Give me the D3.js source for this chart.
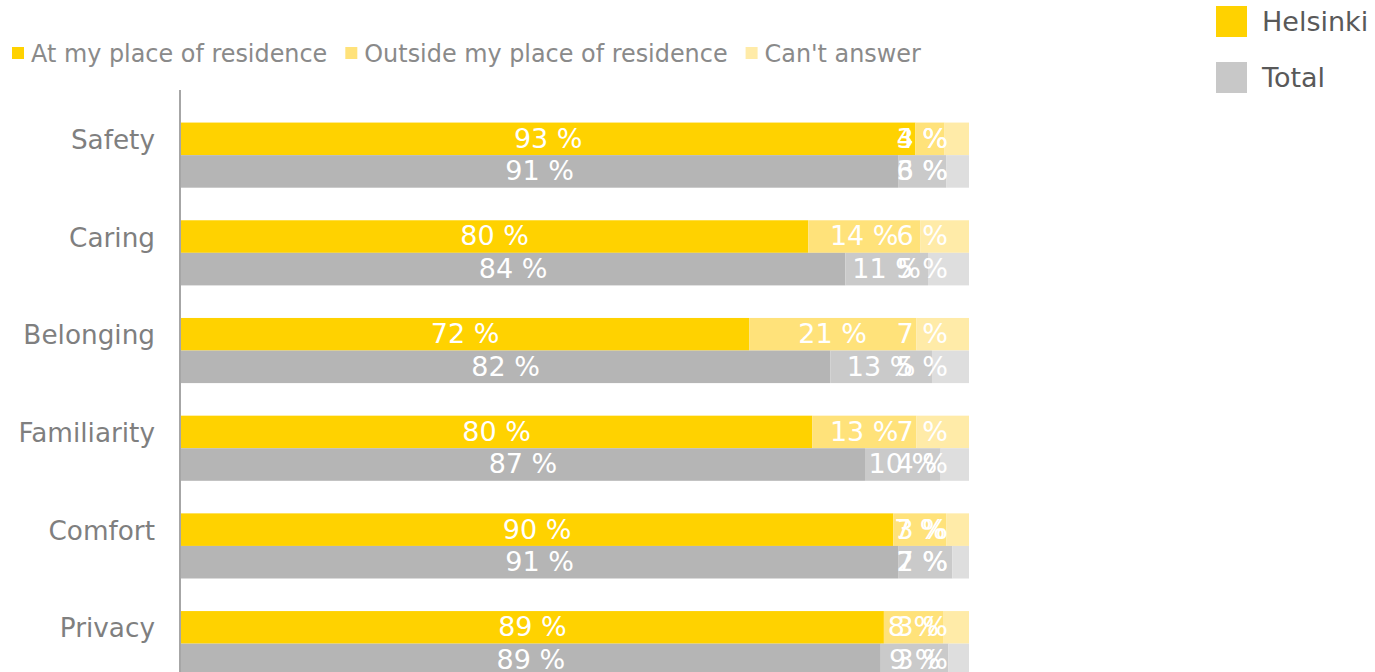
<!DOCTYPE html>
<html>
<head>
<meta charset="utf-8">
<script src="https://cdn.jsdelivr.net/npm/d3@7"></script>
<style>
  html, body { margin: 0; padding: 0; background: #fff; }
  svg { display: block; font-family: "DejaVu Sans", Verdana, sans-serif; }
</style>
</head>
<body>
<svg id="chart" width="1375" height="672"></svg>
<script>
// Where people feel at home – share of answers per aspect
const categories = ["Safety", "Caring", "Belonging", "Familiarity", "Comfort", "Privacy"];
const groups = ["Helsinki", "Total"];
const answers = ["At my place of residence", "Outside my place of residence", "Can't answer"];

// Helsinki, % of respondents
const helsinkiHome    = [93.2, 79.6, 72.1, 80.1, 90.4, 89.2];
const helsinkiOutside = [3.7, 14.2, 21.2, 13.2, 6.7, 7.5];
const helsinkiCant    = [3.1, 6.2, 6.7, 6.7, 2.9, 3.3];

// All respondents, % of respondents
const totalHome    = [91.0, 84.3, 82.4, 86.8, 91.0, 88.8];
const totalOutside = [6.1, 10.5, 12.9, 9.6, 6.9, 8.6];
const totalCant    = [2.9, 5.2, 4.7, 3.6, 2.1, 2.6];

const xTicks = [0, 100];

const palette = {
  Helsinki: ["#FFD200", "#FFE27A", "#FFEBA8"],
  Total:    ["#B5B5B5", "#CACACA", "#DEDEDE"]
};
const groupLegendColor = { Helsinki: "#FFD200", Total: "#C8C8C8" };

const seriesByGroup = {
  Helsinki: [helsinkiHome, helsinkiOutside, helsinkiCant],
  Total:    [totalHome, totalOutside, totalCant]
};

const svg = d3.select("#chart");
const plot = { left: 181, right: 969, top: 90, band: 97.7 };

const x = d3.scaleLinear().domain(xTicks).range([plot.left, plot.right]);
const y = d3.scaleBand()
  .domain(categories)
  .range([plot.top, plot.top + plot.band * categories.length])
  .padding(0);

// three slots per category; the first one stays empty
const slot = d3.scaleBand()
  .domain(["", ...groups])
  .range([0, y.bandwidth()])
  .padding(0);

// stacked rows
const rows = [];
categories.forEach((c, i) => {
  groups.forEach(g => {
    let acc = 0;
    seriesByGroup[g].forEach((arr, k) => {
      const v = arr[i];
      rows.push({ cat: c, group: g, k, x0: acc, x1: acc + v, value: v });
      acc += v;
    });
  });
});

const bars = svg.append("g");
bars.selectAll("rect").data(rows).join("rect")
  .attr("x", d => x(d.x0))
  .attr("width", d => x(d.x1) - x(d.x0))
  .attr("y", d => y(d.cat) + slot(d.group))
  .attr("height", slot.bandwidth())
  .attr("fill", d => palette[d.group][d.k]);

// value labels, centred in each segment and kept inside the plot on the right
const labelLimit = plot.right - 21;
const labels = svg.append("g")
  .attr("font-size", 27)
  .attr("fill", "#fff");
labels.selectAll("text").data(rows).join("text")
  .attr("y", d => y(d.cat) + slot(d.group) + slot.bandwidth() / 2)
  .attr("dy", "0.33em")
  .attr("text-anchor", "middle")
  .text(d => Math.round(d.value) + " %")
  .each(function(d) {
    const w = this.getComputedTextLength();
    let cx = (x(d.x0) + x(d.x1)) / 2;
    if (cx + w / 2 > labelLimit) cx = labelLimit - w / 2;
    d3.select(this).attr("x", cx);
  });

// category axis
const axis = svg.append("g").attr("transform", `translate(${plot.left - 1},0)`)
  .call(d3.axisLeft(y).tickSize(0).tickPadding(25));
axis.select(".domain").remove();
axis.append("line")
  .attr("x1", 0).attr("x2", 0)
  .attr("y1", plot.top).attr("y2", 672)
  .attr("stroke", "#a6a6a6").attr("stroke-width", 2);
axis.selectAll(".tick text")
  .attr("font-size", 26.3)
  .attr("dy", "0.38em")
  .attr("font-family", "DejaVu Sans, Verdana, sans-serif")
  .attr("fill", "#7f7f7f");

// answer legend along the top
const legendTop = svg.append("g").attr("font-size", 23.9).attr("fill", "#8a8a8a");
let lx = 12;
answers.forEach((a, k) => {
  legendTop.append("rect")
    .attr("x", lx).attr("y", 47).attr("width", 12).attr("height", 12)
    .attr("fill", palette.Helsinki[k]);
  const t = legendTop.append("text")
    .attr("x", lx + 19).attr("y", 62).text(a);
  lx += 19 + t.node().getComputedTextLength() + 18;
});

// group legend, top right
const legendRight = svg.append("g").attr("font-size", 27).attr("fill", "#595959");
groups.forEach((g, i) => {
  const gy = 6 + i * 56;
  legendRight.append("rect")
    .attr("x", 1216).attr("y", gy).attr("width", 31).attr("height", 31)
    .attr("fill", groupLegendColor[g]);
  legendRight.append("text")
    .attr("x", 1262).attr("y", gy + 25).text(g);
});
</script>
</body>
</html>
